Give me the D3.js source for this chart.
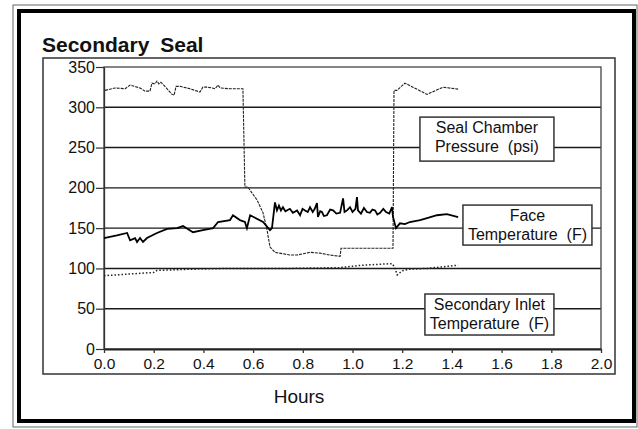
<!DOCTYPE html>
<html>
<head>
<meta charset="utf-8">
<script src="https://cdn.jsdelivr.net/npm/d3@7"></script>
<style>
  body { margin: 0; background: #fff; }
  svg { display: block; }
  text { font-family: "Liberation Sans", Arial, Helvetica, sans-serif; fill: #111; }
</style>
</head>
<body>
<div id="chart"></div>
<script>
// values
const xTicks = [0, 0.2, 0.4, 0.6, 0.8, 1.0, 1.2, 1.4, 1.6, 1.8, 2.0];
const yTicks = [0, 50, 100, 150, 200, 250, 300, 350];

// seal chamber pressure (psi)
const pressureHours = [0.004, 0.044, 0.085, 0.105, 0.145, 0.165, 0.185, 0.193, 0.205, 0.213, 0.221, 0.229,
  0.245, 0.274, 0.282, 0.29, 0.306, 0.346, 0.386, 0.398, 0.414, 0.435, 0.447, 0.459, 0.467, 0.507, 0.559,
  0.567, 0.579, 0.596, 0.616, 0.64, 0.656, 0.668, 0.688, 0.748, 0.777, 0.829, 0.869, 0.909, 0.95, 0.954,
  1.03, 1.163, 1.167, 1.179, 1.211, 1.243, 1.3, 1.364, 1.425];
const pressureValues = [321, 324, 323, 327.5, 324, 320, 320, 330, 329, 332.5, 329, 331,
  326, 316, 315, 326, 326, 323, 319, 325, 325, 324, 323, 327.5, 324, 323, 323,
  201, 201, 193.5, 185, 169, 148, 126.5, 120, 116.6, 116.6, 120, 119, 116.6, 115, 125,
  125, 125, 321, 321, 330, 325, 316, 325, 322.5];

// face temperature (F)
const faceHours = [0, 0.052, 0.093, 0.105, 0.125, 0.133, 0.145, 0.157, 0.173, 0.213, 0.254, 0.294, 0.318,
  0.358, 0.398, 0.439, 0.459, 0.507, 0.519, 0.547, 0.567, 0.575, 0.588, 0.64, 0.668, 0.676, 0.688, 0.696,
  0.704, 0.712, 0.72, 0.73, 0.748, 0.76, 0.777, 0.789, 0.799, 0.809, 0.82, 0.829, 0.84, 0.848, 0.857, 0.861,
  0.87, 0.877, 0.885, 0.897, 0.91, 0.922, 0.935, 0.95, 0.962, 0.968, 0.978, 0.99, 1.0, 1.012, 1.018, 1.022,
  1.034, 1.046, 1.058, 1.07, 1.08, 1.091, 1.1, 1.111, 1.124, 1.135, 1.148, 1.159, 1.163, 1.175, 1.191,
  1.211, 1.231, 1.272, 1.3, 1.34, 1.38, 1.425];
const faceValues = [137.7, 141, 144, 135, 137.7, 132.8, 137.7, 132.8, 137.7, 144, 149, 150, 152.6,
  145, 147.6, 150, 157.6, 160, 166, 160, 157.6, 150, 166, 157.6, 147.6, 150, 182, 172,
  178, 172, 176, 171, 174, 169, 172, 166, 174, 172, 170, 176, 170, 174, 181, 164,
  171, 170, 165, 166, 173, 172, 168, 169, 187, 170, 172, 176, 170, 174, 188.6, 172,
  168, 175, 170, 169, 173, 172, 167, 169, 174, 170, 168, 176, 164, 150, 156,
  155, 157.6, 160, 162.5, 166, 167.5, 163.8];

// secondary inlet temperature (F)
const inletHours = [0, 0.1, 0.2, 0.213, 0.35, 0.5, 0.6, 0.75, 0.95, 1.04, 1.16, 1.17, 1.18, 1.2, 1.23, 1.3, 1.425];
const inletValues = [91, 93, 95, 97.5, 99, 100, 100, 100, 101, 104, 106, 101, 92, 97, 99, 100, 104];

// label boxes, placed by the data point at their centre
const legendLabels = [
  { lines: ['Seal Chamber', 'Pressure  (psi)'], hour: 1.541, value: 260.5, w: 134, h: 44 },
  { lines: ['Face', 'Temperature  (F)'], hour: 1.704, value: 153.8, w: 129, h: 40 },
  { lines: ['Secondary Inlet', 'Temperature  (F)'], hour: 1.551, value: 42.8, w: 129, h: 41 }
];

const width = 638, height = 429;
const svg = d3.select('#chart').append('svg')
  .attr('width', width)
  .attr('height', height);

// old-school frames round the figure
svg.append('rect').attr('x', 13).attr('y', 5).attr('width', 624).attr('height', 422)
  .attr('fill', 'none').attr('stroke', '#666').attr('stroke-width', 1);
svg.append('rect').attr('x', 19).attr('y', 11).attr('width', 615).attr('height', 410)
  .attr('fill', 'none').attr('stroke', '#000').attr('stroke-width', 4);
svg.append('rect').attr('x', 43).attr('y', 58).attr('width', 572).attr('height', 316)
  .attr('fill', 'none').attr('stroke', '#333').attr('stroke-width', 1.5);

// scales
const x = d3.scaleLinear().domain([0, 2]).range([104, 601]);
const y = d3.scaleLinear().domain([0, 350]).range([349, 67]);

// horizontal grid lines
svg.append('g')
  .selectAll('line')
  .data(yTicks.filter((d) => d > 0 && d < 350))
  .join('line')
  .attr('x1', x(0))
  .attr('x2', x(2))
  .attr('y1', (d) => y(d))
  .attr('y2', (d) => y(d))
  .attr('stroke', '#1a1a1a')
  .attr('stroke-width', 1.4);

// plot border
svg.append('rect')
  .attr('x', x(0)).attr('y', y(350))
  .attr('width', x(2) - x(0)).attr('height', y(0) - y(350))
  .attr('fill', 'none').attr('stroke', '#444').attr('stroke-width', 1.3);

// axes
const yAxis = svg.append('g')
  .attr('transform', `translate(${x(0)},0)`)
  .call(d3.axisLeft(y).tickValues(yTicks).tickSize(8).tickSizeOuter(0).tickPadding(1).tickFormat(d3.format('d')));
yAxis.select('.domain').attr('stroke', '#333').attr('stroke-width', 1.3);
yAxis.selectAll('.tick line').attr('stroke', '#333').attr('stroke-width', 1.2);
yAxis.selectAll('text').attr('font-size', 16).attr('fill', '#111');

const xAxis = svg.append('g')
  .attr('transform', `translate(0,${y(0)})`)
  .call(d3.axisBottom(x).tickValues(xTicks).tickSize(4).tickSizeOuter(0).tickPadding(5).tickFormat(d3.format('.1f')));
xAxis.select('.domain').attr('stroke', '#222').attr('stroke-width', 1.8);
xAxis.selectAll('.tick line').attr('stroke', '#333').attr('stroke-width', 1.3);
xAxis.selectAll('text').attr('font-size', 15.5).attr('fill', '#111');

// series
const line = d3.line().x((d) => x(d[0])).y((d) => y(d[1]));

svg.append('path')
  .datum(d3.zip(inletHours, inletValues))
  .attr('d', line)
  .attr('fill', 'none')
  .attr('stroke', '#222')
  .attr('stroke-width', 1.5)
  .attr('stroke-dasharray', '1.5,2');

svg.append('path')
  .datum(d3.zip(pressureHours, pressureValues))
  .attr('d', line)
  .attr('fill', 'none')
  .attr('stroke', '#222')
  .attr('stroke-width', 1.1)
  .attr('stroke-dasharray', '3,1');

svg.append('path')
  .datum(d3.zip(faceHours, faceValues))
  .attr('d', line)
  .attr('fill', 'none')
  .attr('stroke', '#000')
  .attr('stroke-width', 1.8);

// label boxes
const legend = svg.append('g')
  .selectAll('g')
  .data(legendLabels)
  .join('g')
  .attr('transform', (d) => `translate(${x(d.hour)},${y(d.value)})`);

legend.append('rect')
  .attr('x', (d) => -d.w / 2)
  .attr('y', (d) => -d.h / 2)
  .attr('width', (d) => d.w)
  .attr('height', (d) => d.h)
  .attr('fill', '#fff')
  .attr('stroke', '#333')
  .attr('stroke-width', 1.5);

legend.selectAll('text')
  .data((d) => d.lines.map((t, i) => ({ t, i, h: d.h })))
  .join('text')
  .attr('text-anchor', 'middle')
  .attr('x', 0)
  .attr('y', (d) => -d.h / 2 + 16 + d.i * 19)
  .attr('font-size', 16)
  .style('white-space', 'pre')
  .text((d) => d.t);

// title and axis title
svg.append('text')
  .attr('x', 42).attr('y', 52)
  .attr('font-size', 21)
  .attr('font-weight', 'bold')
  .attr('word-spacing', 5)
  .text('Secondary Seal');

svg.append('text')
  .attr('x', 299).attr('y', 403)
  .attr('text-anchor', 'middle')
  .attr('font-size', 19)
  .text('Hours');
</script>
</body>
</html>
